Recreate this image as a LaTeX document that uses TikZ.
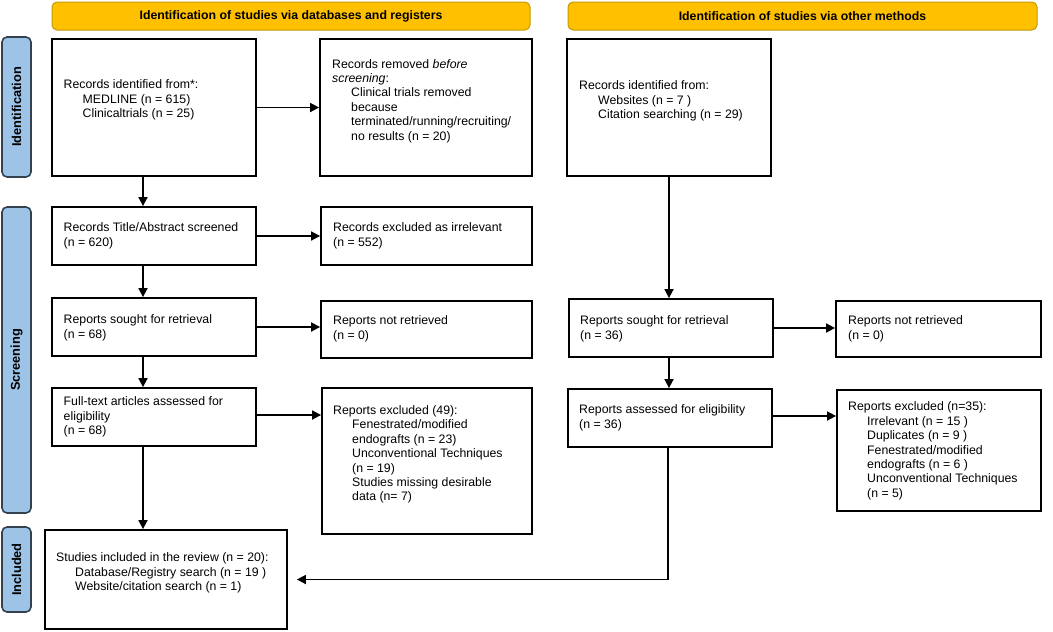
\documentclass[tikz,border=0pt]{standalone}
\usepackage{fontspec}
\setmainfont{Liberation Sans}
\usetikzlibrary{arrows.meta}
\definecolor{hdrfill}{HTML}{FFC000}
\definecolor{hdrline}{HTML}{C49A00}
\definecolor{sidefill}{HTML}{9DC3E6}
\definecolor{sideline}{HTML}{34414F}
\newcommand{\ind}{\hspace*{19pt}}
\begin{document}
\begin{tikzpicture}[x=1pt,y=-1pt,
  box/.style={draw=black, line width=1.8pt, rectangle, inner sep=0pt, fill=white},
  txt/.style={inner sep=0pt, align=left, anchor=west, font=\fontsize{12.3}{14.4}\selectfont},
  hdr/.style={draw=hdrline, line width=1pt, fill=hdrfill, rounded corners=5pt, inner sep=0pt,
    font=\bfseries\fontsize{12.3}{14.4}\selectfont},
  side/.style={draw=sideline, line width=1.6pt, fill=sidefill, rounded corners=5pt, inner sep=0pt,
    font=\bfseries\fontsize{12.8}{15}\selectfont},
  arr/.style={line width=1.7pt, -{Triangle[length=9pt,width=9pt]}}
]
\useasboundingbox (0,0) rectangle (1053,632);
% headers
\node[hdr, minimum width=478pt, minimum height=28pt] (h1) at (291,16) {Identification of studies via databases and registers};
\node[hdr, minimum width=469pt, minimum height=28pt] (h2) at (802.5,16) {Identification of studies via other methods};
% side bars
\node[side, minimum width=29pt, minimum height=140pt] (s1) at (16.5,107) {};
\node[rotate=90, font=\bfseries\fontsize{12.8}{15}\selectfont] (s1t) at (s1.center) {Identification};
\node[side, minimum width=29pt, minimum height=306pt] (s2) at (16.5,360) {};
\node[rotate=90, font=\bfseries\fontsize{12.8}{15}\selectfont] (s2t) at (s2.center) {Screening};
\node[side, minimum width=29pt, minimum height=85pt] (s3) at (16.5,569.5) {};
\node[rotate=90, font=\bfseries\fontsize{12.8}{15}\selectfont] (s3t) at (s3.center) {Included};
% boxes
\node[box, minimum width=204pt, minimum height=137pt] (b1) at (154,107.5) {};
\node[box, minimum width=212pt, minimum height=137pt] (b2) at (426,107.5) {};
\node[box, minimum width=204pt, minimum height=137pt] (b3) at (669,107.5) {};
\node[box, minimum width=204pt, minimum height=58pt] (b4) at (154,236) {};
\node[box, minimum width=211pt, minimum height=58pt] (b5) at (426.5,236) {};
\node[box, minimum width=204pt, minimum height=58pt] (b6) at (154,327) {};
\node[box, minimum width=211pt, minimum height=57pt] (b7) at (426.5,329.5) {};
\node[box, minimum width=204pt, minimum height=58pt] (b8) at (671,328) {};
\node[box, minimum width=205pt, minimum height=56pt] (b9) at (938.5,329) {};
\node[box, minimum width=204pt, minimum height=58pt] (b10) at (154,417) {};
\node[box, minimum width=210pt, minimum height=146pt] (b11) at (427,461) {};
\node[box, minimum width=242pt, minimum height=99pt] (b12) at (166,579.5) {};
\node[box, minimum width=204pt, minimum height=58pt] (b13) at (670,418) {};
\node[box, minimum width=204pt, minimum height=121pt] (b14) at (939,450.5) {};
% texts
\node[txt] (t1) at (63.5,100) {Records identified from*:\\ \ind MEDLINE (n = 615)\\ \ind Clinicaltrials (n = 25)};
\node[txt] (t2) at (332,101) {Records removed \textit{before}\\ \textit{screening}:\\ \ind Clinical trials removed\\ \ind because\\ \ind terminated/running/recruiting/\\ \ind no results (n = 20)};
\node[txt] (t3) at (579,101) {Records identified from:\\ \ind Websites (n = 7 )\\ \ind Citation searching (n = 29)};
\node[txt] (t4) at (63.5,236) {Records Title/Abstract screened\\ (n = 620)};
\node[txt] (t5) at (333,236) {Records excluded as irrelevant\\ (n = 552)};
\node[txt] (t6) at (63.5,328) {Reports sought for retrieval\\ (n = 68)};
\node[txt] (t7) at (333,329) {Reports not retrieved\\ (n = 0)};
\node[txt] (t8) at (580,329) {Reports sought for retrieval\\ (n = 36)};
\node[txt] (t9) at (848,329) {Reports not retrieved\\ (n = 0)};
\node[txt] (t10) at (63.5,417) {Full-text articles assessed for\\ eligibility\\ (n = 68)};
\node[txt] (t11) at (333,454.5) {Reports excluded (49):\\ \ind Fenestrated/modified\\ \ind endografts (n = 23)\\ \ind Unconventional Techniques\\ \ind (n = 19)\\ \ind Studies missing desirable\\ \ind data (n= 7)};
\node[txt] (t12) at (56,573) {Studies included in the review (n = 20):\\ \ind Database/Registry search (n = 19 )\\ \ind Website/citation search (n = 1)};
\node[txt] (t13) at (579,418) {Reports assessed for eligibility\\ (n = 36)};
\node[txt] (t14) at (848,451) {Reports excluded (n=35):\\ \ind Irrelevant (n = 15 )\\ \ind Duplicates (n = 9 )\\ \ind Fenestrated/modified\\ \ind endografts (n = 6 )\\ \ind Unconventional Techniques\\ \ind (n = 5)};
% connectors
\coordinate (cx) at (143,0);
\draw[arr] (b1) -- (b2);
\draw[arr] (b1.south -| cx) -- (b4.north -| cx);
\draw[arr] (b4) -- (b5);
\draw[arr] (b4.south -| cx) -- (b6.north -| cx);
\draw[arr] (b6.east) -- (b6.east -| b7.west);
\draw[arr] (b6.south -| cx) -- (b10.north -| cx);
\draw[arr] ([yshift=2pt]b10.east) -- ([yshift=2pt]b10.east -| b11.west);
\draw[arr] (b10.south -| cx) -- (b12.north -| cx);
\draw[arr] (b3.south) -- (b8.north -| b3.south);
\draw[arr] (b8.east) -- (b8.east -| b9.west);
\draw[arr] (b8.south -| b3.south) -- (b13.north -| b3.south);
\draw[arr] ([yshift=2pt]b13.east) -- ([yshift=2pt]b13.east -| b14.west);
\draw[arr] ([xshift=-2pt]b13.south) |- ([xshift=9pt]b12.east);
\end{tikzpicture}
\end{document}
